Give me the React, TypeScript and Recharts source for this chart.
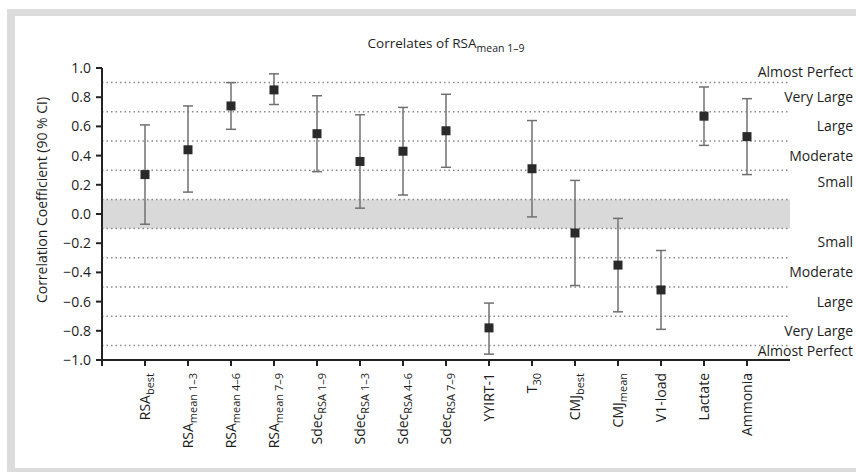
import React from "react";
import {
  ComposedChart,
  Scatter,
  XAxis,
  YAxis,
  ErrorBar,
  ReferenceArea,
  ReferenceLine,
} from "recharts";

// categories: main text + subscript part
const catMain = [
  "RSA", "RSA", "RSA", "RSA", "Sdec", "Sdec", "Sdec", "Sdec",
  "YYIRT-1", "T", "CMJ", "CMJ", "V1-load", "Lactate", "Ammonia",
];
const catSub = [
  "best", "mean 1–3", "mean 4–6", "mean 7–9", "RSA 1–9", "RSA 1–3", "RSA 4–6", "RSA 7–9",
  "", "30", "best", "mean", "", "", "",
];

const values = [0.27, 0.44, 0.74, 0.85, 0.55, 0.36, 0.43, 0.57, -0.78, 0.31, -0.13, -0.35, -0.52, 0.67, 0.53];
const lower = [-0.07, 0.15, 0.58, 0.75, 0.29, 0.04, 0.13, 0.32, -0.96, -0.02, -0.49, -0.67, -0.79, 0.47, 0.27];
const upper = [0.61, 0.74, 0.9, 0.96, 0.81, 0.68, 0.73, 0.82, -0.61, 0.64, 0.23, -0.03, -0.25, 0.87, 0.79];

const xTicks = [0, 1, 2, 3, 4, 5, 6, 7, 8, 9, 10, 11, 12, 13, 14, 15];
const yTicks = [-1, -0.8, -0.6, -0.4, -0.2, 0, 0.2, 0.4, 0.6, 0.8, 1];
const thresholds = [-0.9, -0.7, -0.5, -0.3, -0.1, 0.1, 0.3, 0.5, 0.7, 0.9];

const magnitudeLabels = [
  "Almost Perfect", "Very Large", "Large", "Moderate", "Small",
  "Small", "Moderate", "Large", "Very Large", "Almost Perfect",
];
const magnitudeAt = [0.97, 0.8, 0.6, 0.4, 0.22, -0.19, -0.4, -0.6, -0.8, -0.94];

const FONT = "'Open Sans', sans-serif";
const INK = "#1e1e1e";

const data = values.map((v, i) => ({
  x: i + 1,
  y: v,
  err: [v - lower[i], upper[i] - v],
}));

const fmtY = (v: number) => {
  const s = Math.abs(v).toFixed(1);
  return v < -1e-9 ? "\u2212" + s : s;
};

const XTick = (p: any) => {
  const i = p.payload.value - 1;
  if (i < 0) return <g />;
  return (
    <text
      transform={`translate(${p.x + 5},${p.y + 5}) rotate(-90)`}
      textAnchor="end"
      fontFamily={FONT}
      fontSize={14}
      fill={INK}
    >
      {catMain[i]}
      {catSub[i] ? (
        <tspan dy={4} fontSize={11}>
          {catSub[i]}
        </tspan>
      ) : null}
    </text>
  );
};

// right-hand magnitude label, anchored to the end of a reference line
const MagLabel = (text: string) => (p: any) => {
  const vb = p.viewBox;
  return (
    <text
      x={vb.x + vb.width + 63}
      y={vb.y}
      dy={5}
      textAnchor="end"
      fontFamily={FONT}
      fontSize={14}
      fill={INK}
    >
      {text}
    </text>
  );
};

const YLabel = (p: any) => {
  const vb = p.viewBox;
  const cx = vb.x + 47;
  const cy = vb.y + vb.height / 2 - 14;
  return (
    <text
      transform={`translate(${cx},${cy}) rotate(-90)`}
      textAnchor="middle"
      fontFamily={FONT}
      fontSize={14}
      fill={INK}
    >
      Correlation Coefficient (90 % CI)
    </text>
  );
};

const Square = (p: any) => (
  <rect x={p.cx - 4.5} y={p.cy - 4.5} width={9} height={9} fill="#2a2a2a" />
);

const band = "#dcdcdc";

export default function App() {
  return (
    <div style={{ position: "absolute", left: 0, top: 0, width: 856, height: 472, overflow: "hidden", background: "#fff" }}>
      <div style={{ position: "absolute", left: 7, top: 9, width: 849, height: 7, background: band }} />
      <div style={{ position: "absolute", left: 7, top: 9, width: 8, height: 463, background: band }} />
      <div style={{ position: "absolute", left: 7, top: 468, width: 849, height: 4, background: band }} />
      <div
        style={{
          position: "absolute",
          left: 102,
          top: 35,
          width: 688,
          textAlign: "center",
          fontFamily: FONT,
          fontSize: 13.5,
          lineHeight: "16px",
          color: INK,
        }}
      >
        Correlates of RSA
        <span style={{ fontSize: 10.5, position: "relative", top: 4 }}>mean 1–9</span>
      </div>
      <div style={{ position: "absolute", left: 0, top: 0 }}>
        <ComposedChart
          width={856}
          height={472}
          data={data}
          margin={{ top: 68, right: 66, bottom: 12, left: 0 }}
        >
          <XAxis
            type="number"
            dataKey="x"
            domain={[0, 16]}
            ticks={xTicks}
            interval={0}
            height={100}
            tick={<XTick />}
            tickSize={6}
            axisLine={{ stroke: "#222", strokeWidth: 2 }}
            tickLine={{ stroke: "#222", strokeWidth: 2 }}
          />
          <YAxis
            type="number"
            domain={[-1, 1]}
            ticks={yTicks}
            interval={0}
            width={102}
            tickFormatter={fmtY}
            tickSize={6}
            tickMargin={5}
            tick={{ fill: INK, fontSize: 14, fontFamily: FONT }}
            axisLine={{ stroke: "#222", strokeWidth: 2 }}
            tickLine={{ stroke: "#222", strokeWidth: 2 }}
            label={{ content: <YLabel /> }}
          />
          <ReferenceArea y1={-0.1} y2={0.1} fill="#d9d9d9" fillOpacity={1} stroke="none" />
          {thresholds.map((t) => (
            <ReferenceLine key={t} y={t} stroke="#8a8a8a" strokeWidth={1.5} strokeDasharray="1.5 3" />
          ))}
          {magnitudeAt.map((m, i) => (
            <ReferenceLine key={"m" + i} y={m} stroke="none" label={MagLabel(magnitudeLabels[i])} />
          ))}
          <Scatter dataKey="y" shape={<Square />} isAnimationActive={false}>
            <ErrorBar dataKey="err" direction="y" width={5} stroke="#707070" strokeWidth={1.5} />
          </Scatter>
        </ComposedChart>
      </div>
    </div>
  );
}
